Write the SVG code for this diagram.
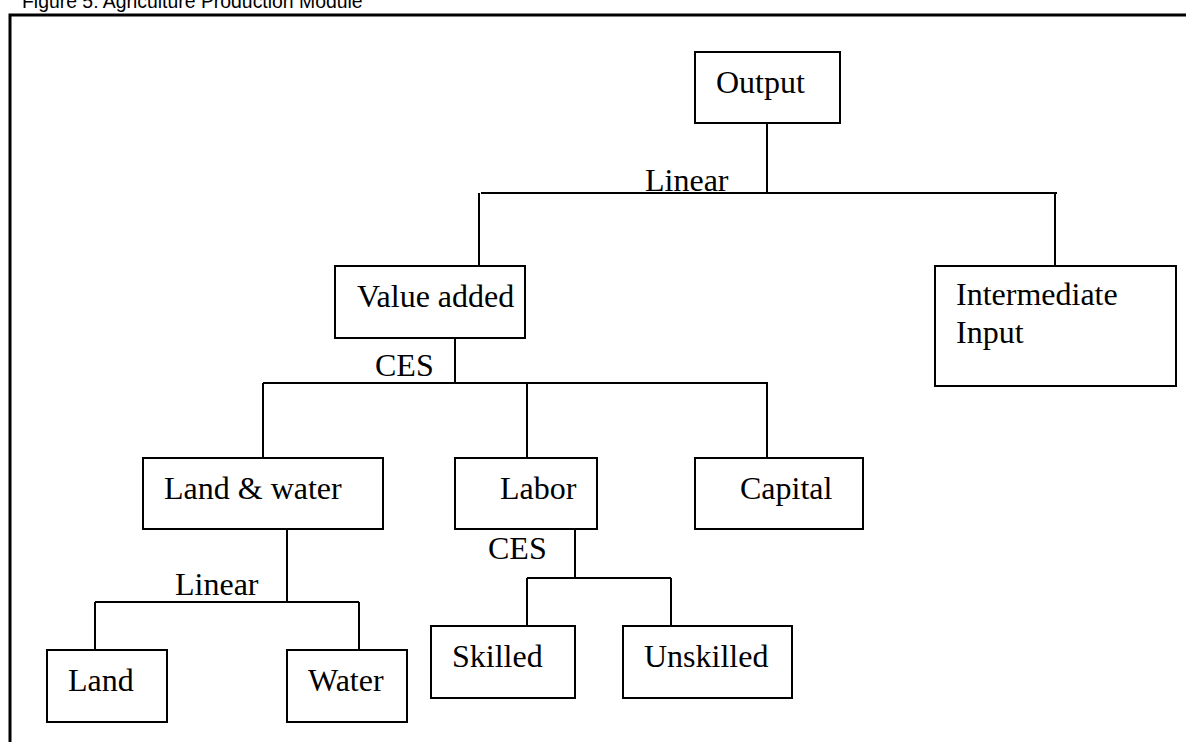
<svg xmlns="http://www.w3.org/2000/svg" width="1186" height="742" viewBox="0 0 1186 742">
<style>
.box{fill:#fff;stroke:#000;stroke-width:2}
.lbl{font-family:"Liberation Serif","Times New Roman",serif;font-size:32px;fill:#000}
.con{fill:none;stroke:#000;stroke-width:2}
.title{font-family:"Liberation Sans",Arial,sans-serif;font-size:19.4px;fill:#000}
</style>
<rect width="1186" height="742" fill="#fff"/>
<text class="title" x="22" y="7.5">Figure 5: Agriculture Production Module</text>
<path d="M10,760 V15 H1200" fill="none" stroke="#000" stroke-width="3"/>
<g id="connectors">
<path class="con" d="M767,123 V193 M481,193 H1057 M479,193 V266 M1055,193 V266"/>
<path class="con" d="M455,338 V383 M263,383 H768 M263,383 V458 M527,383 V458 M767,383 V458"/>
<path class="con" d="M287,529 V602 M95,602 H359 M95,602 V650 M359,602 V650"/>
<path class="con" d="M575,529 V578 M527,578 H671 M527,578 V626 M671,578 V626"/>
<text class="lbl" x="645" y="191">Linear</text>
<text class="lbl" x="375" y="376">CES</text>
<text class="lbl" x="175" y="595">Linear</text>
<text class="lbl" x="488" y="559">CES</text>
</g>
<g id="output"><rect class="box" x="695" y="52" width="145" height="71"/><text class="lbl" x="716" y="93">Output</text></g>
<g id="value-added"><rect class="box" x="335" y="266" width="190" height="72"/><text class="lbl" x="357" y="307">Value added</text></g>
<g id="intermediate-input"><rect class="box" x="935" y="266" width="241" height="120"/><text class="lbl" x="956" y="305">Intermediate</text><text class="lbl" x="956" y="343">Input</text></g>
<g id="land-water"><rect class="box" x="143" y="458" width="240" height="71"/><text class="lbl" x="164" y="499">Land &amp; water</text></g>
<g id="labor"><rect class="box" x="455" y="458" width="142" height="71"/><text class="lbl" x="500" y="499">Labor</text></g>
<g id="capital"><rect class="box" x="695" y="458" width="168" height="71"/><text class="lbl" x="740" y="499">Capital</text></g>
<g id="land"><rect class="box" x="47" y="650" width="120" height="72"/><text class="lbl" x="68" y="691">Land</text></g>
<g id="water"><rect class="box" x="287" y="650" width="120" height="72"/><text class="lbl" x="308" y="691">Water</text></g>
<g id="skilled"><rect class="box" x="431" y="626" width="144" height="72"/><text class="lbl" x="452" y="667">Skilled</text></g>
<g id="unskilled"><rect class="box" x="623" y="626" width="169" height="72"/><text class="lbl" x="644" y="667">Unskilled</text></g>
</svg>
